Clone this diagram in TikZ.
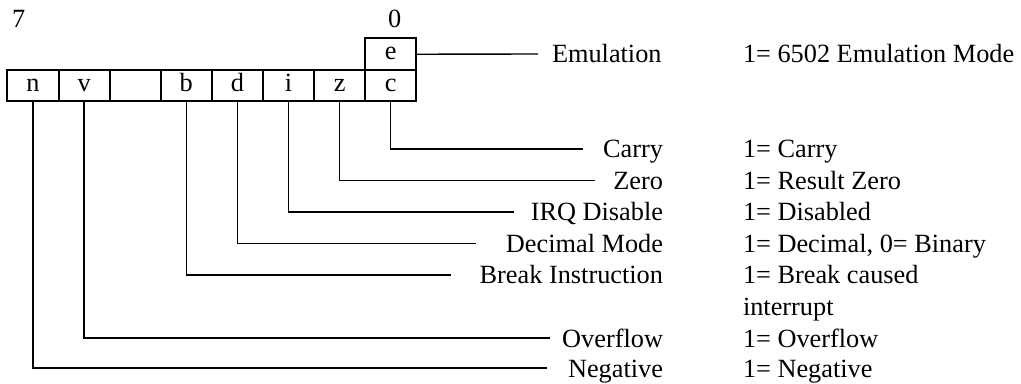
\documentclass[tikz,border=0pt]{standalone}
\usepackage{fontspec}
\setmainfont{Liberation Serif}
\begin{document}
\begin{tikzpicture}[x=0.5pt,y=-0.5pt,
  every node/.style={font=\fontsize{13.15pt}{15pt}\selectfont, inner sep=0pt, outer sep=0pt},
  cell/.style={draw, line width=1pt, minimum width=25.55pt, minimum height=15.75pt,
    text height=0.75em, text depth=0.18em, anchor=center},
  conn/.style={line width=0.7pt},
  lbl/.style={anchor=base east},
  desc/.style={anchor=base west}]
\useasboundingbox (0,0) rectangle (1021,384);
% bit numbers
\node[anchor=base west] (b7) at (12,28) {7};
\node[anchor=base west] (b0) at (388,28) {0};
% register cells
\node[cell] (n) at (33,85.75) {n};
\node[cell] (v) at (84.1,85.75) {v};
\node[cell] (x) at (135.2,85.75) {};
\node[cell] (b) at (186.3,85.75) {b};
\node[cell] (d) at (237.4,85.75) {d};
\node[cell] (i) at (288.5,85.75) {i};
\node[cell] (z) at (339.6,85.75) {z};
\node[cell] (c) at (390.7,85.75) {c};
\node[cell] (e) at (390.7,54.25) {e};
% emulation
\coordinate (le) at (538,54);
\draw[conn] (e.east) -- (le);
\node[desc] (lemu) at (552,63) {Emulation};
\node[desc] (demu) at (743,63) {1= 6502 Emulation Mode};
% line end coordinates
\coordinate (lc) at (583,149);
\coordinate (lz) at (595,180.5);
\coordinate (li) at (514,212);
\coordinate (ld) at (476,243.5);
\coordinate (lb) at (451,275);
\coordinate (lv) at (550,338);
\coordinate (ln) at (547,368);
% connectors
\draw[conn] (c.south) |- (lc);
\draw[conn] (z.south) |- (lz);
\draw[conn] (i.south) |- (li);
\draw[conn] (d.south) |- (ld);
\draw[conn] (b.south) |- (lb);
\draw[conn] (v.south) |- (lv);
\draw[conn] (n.south) |- (ln);
% labels
\node[lbl] (tc) at (663,158) {Carry};
\node[lbl] (tz) at (663,189.5) {Zero};
\node[lbl] (ti) at (663,221) {IRQ Disable};
\node[lbl] (td) at (663,252.5) {Decimal Mode};
\node[lbl] (tb) at (663,284) {Break Instruction};
\node[lbl] (tv) at (663,347) {Overflow};
\node[lbl] (tn) at (663,377) {Negative};
% descriptions
\node[desc] (dc) at (743,158) {1= Carry};
\node[desc] (dz) at (743,189.5) {1= Result Zero};
\node[desc] (di) at (743,221) {1= Disabled};
\node[desc] (dd) at (743,252.5) {1= Decimal, 0= Binary};
\node[desc] (db) at (743,284) {1= Break caused};
\node[desc] (db2) at (743,315.5) {interrupt};
\node[desc] (dv) at (743,347) {1= Overflow};
\node[desc] (dn) at (743,377) {1= Negative};
\end{tikzpicture}
\end{document}
